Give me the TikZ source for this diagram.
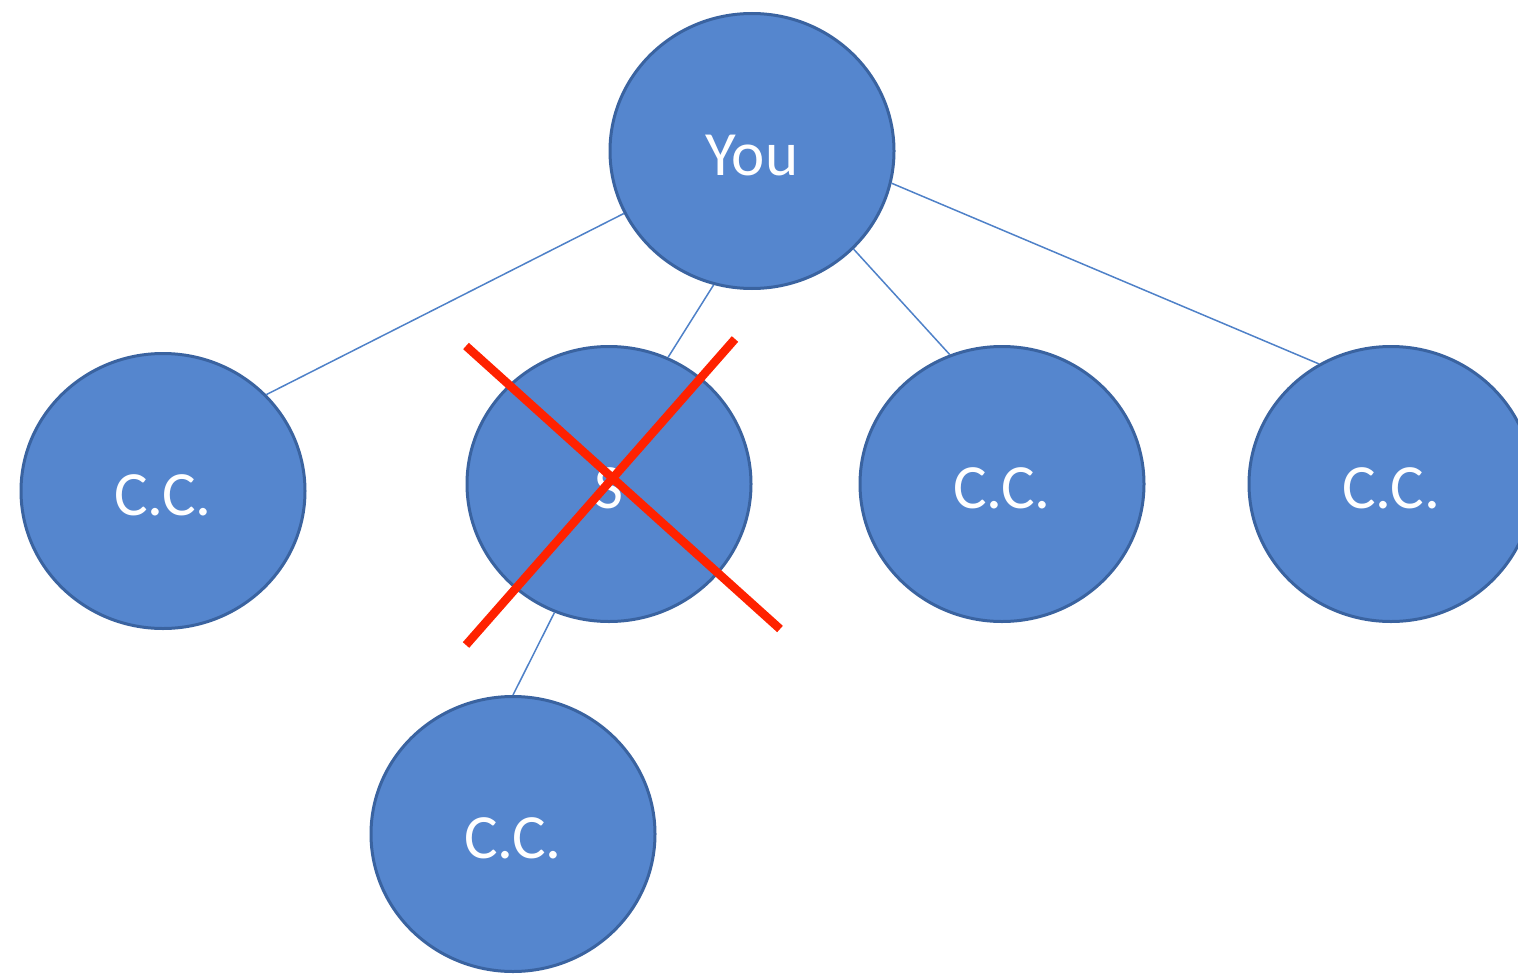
\documentclass[tikz,border=0pt]{standalone}
\usepackage{fontspec}
\setmainfont{Carlito}
\usetikzlibrary{shapes.geometric}
\definecolor{nodefill}{RGB}{85,134,206}
\definecolor{nodeline}{RGB}{58,99,160}
\definecolor{linkcol}{RGB}{79,129,200}
\definecolor{crossred}{RGB}{255,34,0}
\tikzset{
  person/.style={ellipse, draw=nodeline, line width=3pt, fill=nodefill,
    minimum width=284pt, minimum height=275pt, inner sep=0pt,
    text height=48pt, text depth=0pt,
    text=white, font=\fontsize{63}{70}\selectfont},
  link/.style={draw=linkcol, line width=1.5pt},
  crossline/.style={draw=crossred, line width=8.5pt}
}
\begin{document}
\begin{tikzpicture}[x=1pt,y=-1pt]
\useasboundingbox (0,0) rectangle (1518,974);
\clip (0,0) rectangle (1518,974);
\node[person] (you) at (752,151) {You};
\node[person] (cc1) at (163,491) {C.C.};
\node[person] (s)   at (609,484) {S};
\node[person] (cc3) at (1002,484) {C.C.};
\node[person] (cc4) at (1391,484) {C.C.};
\node[person] (cc5) at (513,834) {C.C.};
\draw[link] (you.206) -- (cc1.43.9);
\draw[link] (you.254.7) -- (s.65.2);
\draw[link] (you.316.1) -- (cc3.112.8);
\draw[link] (you.347.2) -- (cc4.121.9);
\draw[link] (s.247.8) -- (cc5.90);
\coordinate (xa1) at (466,346);
\coordinate (xa2) at (780,629);
\coordinate (xb1) at (735,339);
\coordinate (xb2) at (466,645);
\draw[crossline] (xa1) -- (xa2);
\draw[crossline] (xb1) -- (xb2);
\end{tikzpicture}
\end{document}
